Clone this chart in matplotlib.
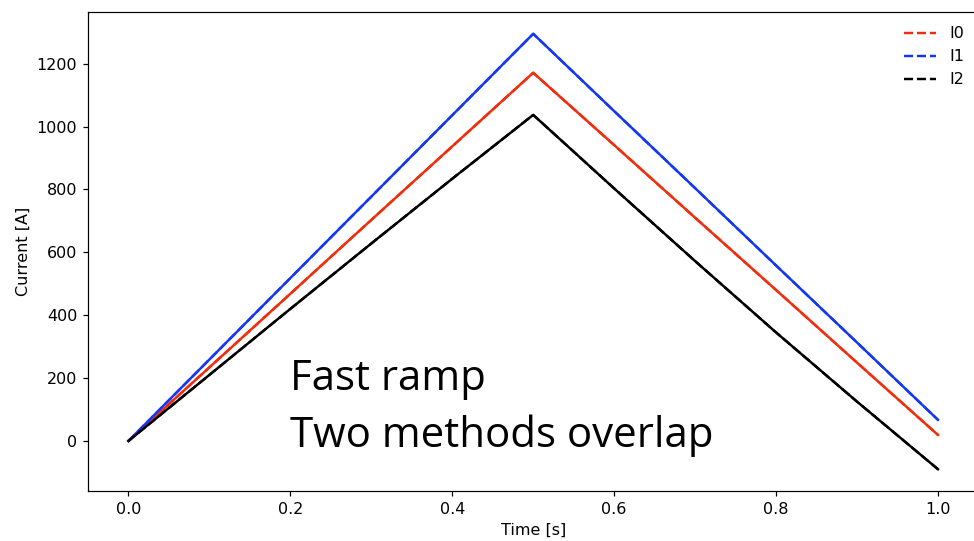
import matplotlib.pyplot as plt

# Ramp currents sampled along the cycle
t = [0.0, 0.1, 0.2, 0.3, 0.4, 0.5, 0.6, 0.7, 0.8, 0.9, 1.0]
i0 = [0, 234, 468, 703, 937, 1171, 941, 710, 480, 249, 19]
i1 = [0, 259, 518, 777, 1036, 1295, 1049, 804, 558, 313, 67]
i2 = [0, 210, 420, 628, 834, 1037, 803, 572, 345, 125, -90]

series = [("I0", i0, "#f22d0c"), ("I1", i1, "#1438f2"), ("I2", i2, "black")]

fig = plt.figure(figsize=(974 / 110, 541 / 110), dpi=110)
ax = fig.add_axes([0.0903, 0.0924, 0.9143, 0.8854])

# first method: solid lines
for name, vals, col in series:
    ax.plot(t, vals, color=col, lw=1.6)

# second method: dashed lines on top
for name, vals, col in series:
    ax.plot(t, vals, color=col, lw=1.6, ls="--", label=name)

ax.set_xlabel("Time [s]", fontsize=10.5)
ax.set_ylabel("Current [A]", fontsize=10.5)
ax.tick_params(labelsize=10.5)
ax.legend(loc="upper right", frameon=False, fontsize=10.5)

ax.text(0.2, 162, "Fast ramp", fontsize=27.5, family="Open Sans", va="baseline")
ax.text(0.2, -19, "Two methods overlap", fontsize=27.5, family="Open Sans", va="baseline")

fig.savefig("out.png", dpi=110)
